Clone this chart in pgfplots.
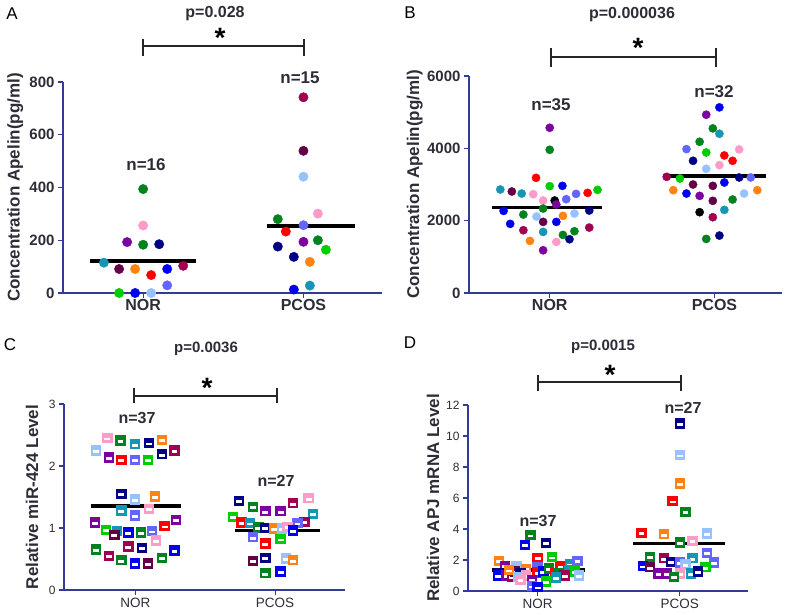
\documentclass[border=0pt]{standalone}
\usepackage{fontspec}
\setmainfont{Liberation Sans}
\usepackage{pgfplots}
\usepackage{pgfplotstable}
\pgfplotsset{compat=1.18}

\definecolor{cgreen}{RGB}{0,130,30}
\definecolor{cbgreen}{RGB}{0,205,0}
\definecolor{cblue}{RGB}{0,0,240}
\definecolor{cnavy}{RGB}{0,0,135}
\definecolor{clblue}{RGB}{150,195,255}
\definecolor{cslate}{RGB}{100,100,255}
\definecolor{cred}{RGB}{255,0,0}
\definecolor{corange}{RGB}{255,130,20}
\definecolor{cpink}{RGB}{255,155,200}
\definecolor{cpurple}{RGB}{125,0,160}
\definecolor{cplum}{RGB}{100,0,70}
\definecolor{cmaroon}{RGB}{160,0,80}
\definecolor{cteal}{RGB}{20,150,180}
\definecolor{caxis}{RGB}{50,60,150}
\definecolor{ctext}{RGB}{45,45,55}

\newcommand\fs[1]{\fontsize{#1}{#1}\selectfont}

% coloured square with a white bar, as in panels C and D
\pgfdeclareplotmark{sqbar}{%
  \pgfpathrectangle{\pgfpoint{-\pgfplotmarksize}{-\pgfplotmarksize}}{\pgfpoint{2\pgfplotmarksize}{2\pgfplotmarksize}}%
  \pgfusepathqfill
  \pgfscope
  \pgfsetfillcolor{white}%
  \pgfpathrectangle{\pgfpoint{-0.55\pgfplotmarksize}{-0.45\pgfplotmarksize}}{\pgfpoint{1.1\pgfplotmarksize}{0.55\pgfplotmarksize}}%
  \pgfusepathqfill
  \endpgfscope
}

\pgfplotsset{
  palette/.style={scatter/classes={g={cgreen},bg={cbgreen},b={cblue},n={cnavy},
    lb={clblue},s={cslate},r={cred},o={corange},pk={cpink},pu={cpurple},
    pl={cplum},m={cmaroon},t={cteal},k={black}}},
  panel/.style={scale only axis, anchor=south west, clip=false,
    axis x line*=bottom, axis y line*=left,
    axis line style={caxis,line width=1.4pt},
    tick style={caxis,line width=1.2pt}, tick align=outside,
    major tick length=5pt,
    xtick={0,1}, xticklabels={NOR,PCOS}, ymin=0,
    scaled y ticks=false,
    /pgf/number format/assume math mode=true,
    /pgf/number format/1000 sep={},
    ylabel style={font=\bfseries\fs{17}, text=ctext, anchor=center}},
  big/.style={yticklabel style={font=\bfseries\fs{15}, text=ctext},
    xticklabel style={font=\bfseries\fs{16}, text=ctext, yshift=2pt}},
  small/.style={yticklabel style={font=\fs{12}, text=ctext},
    xticklabel style={font=\fs{13.5}, text=ctext}},
  dots/.style={scatter, only marks, scatter src=explicit symbolic, palette,
    mark=*, mark size=#1, mark options={line width=0.4pt}},
  boxes/.style={scatter, only marks, scatter src=explicit symbolic, palette,
    mark=sqbar, mark size=#1},
  mean/.style={black, line width=3.6pt}
}

% panel A: apelin (pg/ml)
\pgfplotstableread{
x y c
0.00 394 g
0.00 256 pk
-0.10 193 pu
0.00 183 g
0.10 185 n
-0.245 115 t
-0.15 91 pl
-0.05 91 o
0.05 68 r
0.15 91 b
0.25 103 m
0.15 29 s
-0.15 0 bg
-0.05 0 b
0.05 0 lb
}\tAnor
\pgfplotstableread{
x y c
1.00 742 m
1.00 539 pl
1.00 441 lb
1.09 301 pk
0.84 280 g
1.00 257 s
0.89 233 r
1.00 194 pu
1.09 200 g
0.84 176 n
1.14 164 bg
0.94 137 n
1.04 118 o
0.94 13 b
1.04 28 t
}\tApcos

% panel B: apelin (pg/ml)
\pgfplotstableread{
x y c
0.00 4569 pu
0.00 3960 g
-0.083 3184 r
0.00 2954 bg
0.077 2963 b
-0.30 2861 t
-0.23 2806 pl
-0.17 2750 t
-0.10 2732 pk
-0.04 2557 pk
0.03 2557 k
0.04 2446 pu
0.10 2594 s
0.16 2741 s
0.23 2769 r
0.29 2852 bg
-0.28 2270 b
-0.16 2169 g
-0.08 2114 lb
-0.04 2335 g
-0.04 1966 pl
0.04 1966 b
0.08 2132 o
0.15 2197 lb
0.24 2280 n
-0.24 1911 b
-0.16 1735 m
-0.04 1689 t
0.08 1606 g
0.15 1708 g
0.24 1809 m
-0.12 1440 o
0.12 1486 n
0.04 1412 pk
-0.04 1181 pu
}\tBnor
\pgfplotstableread{
x y c
1.03 5132 b
0.95 4929 pu
0.99 4551 g
1.03 4403 t
0.91 4181 g
0.83 3978 s
0.95 3886 bg
1.15 3969 pk
0.87 3655 n
1.06 3803 r
1.11 3655 r
1.03 3535 pk
0.95 3434 lb
0.71 3212 m
0.79 3166 bg
1.15 3194 n
1.22 3194 s
0.87 3000 pl
0.99 2963 pl
1.06 3055 b
0.75 2843 o
1.26 2843 o
0.83 2750 b
0.91 2686 pu
1.18 2750 lb
0.99 2548 pl
1.11 2584 g
1.06 2298 t
0.91 2234 k
0.99 2095 m
1.03 1588 n
0.95 1495 g
}\tBpcos

% panel C: miR-424
\pgfplotstableread{
x y c
-0.20 2.45 pk
-0.106 2.41 g
0.00 2.35 t
0.10 2.37 n
0.19 2.42 o
-0.28 2.25 lb
-0.19 2.14 pu
-0.10 2.10 r
0.00 2.10 s
0.09 2.10 bg
0.19 2.19 n
0.28 2.25 m
-0.10 1.55 n
0.00 1.46 lb
0.14 1.51 o
-0.10 1.28 t
0.10 1.31 pk
0.00 1.20 s
-0.29 1.09 pu
-0.21 0.97 bg
-0.13 0.95 t
-0.15 0.89 pl
-0.05 0.93 b
0.04 0.93 g
0.12 0.95 s
0.21 1.03 r
0.29 1.13 pu
-0.05 0.70 m
0.05 0.68 n
0.15 0.80 pk
-0.28 0.65 g
-0.19 0.55 m
-0.10 0.48 g
0.00 0.43 b
0.09 0.43 pl
0.19 0.52 g
0.28 0.64 b
}\tCnor
\pgfplotstableread{
x y c
1.24 1.48 pk
0.74 1.44 n
1.13 1.40 m
0.84 1.34 g
0.93 1.27 pu
1.04 1.27 pu
1.27 1.23 t
0.70 1.18 bg
0.76 1.09 r
0.82 1.08 t
1.21 1.10 m
1.16 1.08 s
0.88 1.01 g
0.93 1.00 n
0.99 0.99 o
1.05 0.99 lb
1.09 1.02 pk
1.13 0.96 b
0.84 0.85 s
1.04 0.82 bg
0.93 0.75 r
0.84 0.47 pl
0.93 0.52 n
1.08 0.51 lb
1.13 0.48 o
0.93 0.27 g
1.04 0.30 b
}\tCpcos

% panel D: APJ mRNA
\pgfplotstableread{
x y c
-0.27 1.94 o
-0.23 1.63 pu
-0.15 1.57 lb
-0.08 1.42 o
0.16 1.61 r
0.23 1.74 t
0.28 1.94 s
-0.27 1.14 n
-0.28 0.99 b
-0.22 0.99 pu
-0.18 0.92 m
-0.16 1.25 pl
-0.20 1.35 o
-0.12 1.14 n
-0.14 0.92 lb
-0.08 0.99 pk
-0.12 0.71 pk
0.00 2.13 r
0.10 2.19 bg
-0.09 2.97 b
0.06 3.10 n
-0.05 3.61 g
0.00 1.53 s
0.00 1.20 r
0.04 1.25 b
0.08 1.46 g
0.12 1.14 r
0.15 1.14 g
0.22 1.35 t
0.26 1.25 bg
0.19 0.99 m
0.29 0.99 lb
0.13 0.86 t
0.06 0.60 bg
-0.04 0.71 pu
-0.04 0.32 s
0.00 0.25 b
}\tDnor
\pgfplotstableread{
x y c
1.00 10.81 n
1.00 8.77 lb
1.00 6.94 o
0.95 5.80 r
1.04 5.10 g
0.73 3.76 r
0.89 3.66 o
1.19 3.72 lb
1.09 3.23 pk
1.00 3.12 g
0.79 2.21 g
0.89 2.11 m
1.19 2.47 s
1.09 2.11 t
0.74 1.61 b
0.79 1.53 pl
0.94 1.89 n
1.00 1.83 s
1.04 1.72 lb
1.24 1.83 s
1.18 1.53 bg
0.85 1.14 pu
0.91 1.14 pu
1.00 1.14 pk
1.08 1.14 t
1.13 1.25 n
0.96 0.92 g
}\tDpcos

\begin{document}
\begin{tikzpicture}[x=1pt,y=1pt]
\path[use as bounding box] (0,0) rectangle (800,615);

% ---- A ----
\begin{axis}[panel, big, at={(63pt,322pt)}, width=319pt, height=211pt,
  xmin=-0.5, xmax=1.49, ymax=800, ytick={0,200,...,800},
  ylabel={Concentration Apelin(pg/ml)},
  ylabel style={at={(axis description cs:-0.15,0.5)}}]
\addplot[dots=4.7pt] table[x=x,y=y,meta=c]{\tAnor};
\addplot[dots=4.7pt] table[x=x,y=y,meta=c]{\tApcos};
\addplot[mean] coordinates {(-0.33,121) (0.33,121)};
\addplot[mean] coordinates {(0.77,255) (1.32,255)};
\end{axis}

% ---- B ----
\begin{axis}[panel, big, at={(469pt,322pt)}, width=313pt, height=217pt,
  xmin=-0.49, xmax=1.41, ymax=6000, ytick={0,2000,4000,6000},
  ylabel={Concentration Apelin(pg/ml)},
  ylabel style={at={(axis description cs:-0.173,0.5)}}]
\addplot[dots=4.1pt] table[x=x,y=y,meta=c]{\tBnor};
\addplot[dots=4.1pt] table[x=x,y=y,meta=c]{\tBpcos};
\addplot[mean] coordinates {(-0.35,2363) (0.32,2363)};
\addplot[mean] coordinates {(0.69,3240) (1.31,3240)};
\end{axis}

% ---- C ----
\begin{axis}[panel, small, at={(64pt,25pt)}, width=281pt, height=186pt,
  xmin=-0.51, xmax=1.5, ymax=3, ytick={0,1,2,3},
  ylabel={Relative miR-424 Level},
  ylabel style={at={(axis description cs:-0.114,0.5)}}]
\addplot[boxes=5.2pt] table[x=x,y=y,meta=c]{\tCnor};
\addplot[boxes=5.2pt] table[x=x,y=y,meta=c]{\tCpcos};
\addplot[mean] coordinates {(-0.32,1.357) (0.33,1.357)};
\addplot[mean] coordinates {(0.71,0.96) (1.32,0.96)};
\end{axis}

% ---- D ----
\begin{axis}[panel, small, at={(468pt,24pt)}, width=280pt, height=186pt,
  xmin=-0.49, xmax=1.48, ymax=12, ytick={0,2,...,12},
  ylabel={Relative APJ mRNA Level},
  ylabel style={at={(axis description cs:-0.125,0.5)}}]
\addplot[boxes=5.2pt] table[x=x,y=y,meta=c]{\tDnor};
\addplot[boxes=5.2pt] table[x=x,y=y,meta=c]{\tDpcos};
\addplot[mean] coordinates {(-0.32,1.35) (0.33,1.35)};
\addplot[mean] coordinates {(0.67,3.07) (1.32,3.07)};
\end{axis}

% panel letters
\node[font=\fs{17}] at (12,601) {A};
\node[font=\fs{17}] at (410,602) {B};
\node[font=\fs{17}] at (10,270) {C};
\node[font=\fs{17}] at (410,272) {D};

% p values, stars, brackets, group sizes
\begin{scope}[text=ctext, font=\bfseries\fs{16}]
\node at (215,601) {p=0.028};
\node at (632,600) {p=0.000036};
\node[font=\bfseries\fs{15}] at (206,266) {p=0.0036};
\node[font=\bfseries\fs{15}] at (603,268) {p=0.0015};
\node[font=\bfseries\fs{17}] at (146,450) {n=16};
\node[font=\bfseries\fs{17}] at (300,537) {n=15};
\node[font=\bfseries\fs{17}] at (551,510) {n=35};
\node[font=\bfseries\fs{17}] at (714,523) {n=32};
\node[font=\bfseries\fs{16}] at (137,197) {n=37};
\node[font=\bfseries\fs{16}] at (276,134) {n=27};
\node[font=\bfseries\fs{16}] at (538,94) {n=37};
\node[font=\bfseries\fs{16}] at (683,207) {n=27};
\end{scope}
\begin{scope}[font=\bfseries\fs{28}, inner sep=0pt]
\node[anchor=base] at (220,583-16) {*};
\node[anchor=base] at (638,573-16) {*};
\node[anchor=base] at (207,233-16) {*};
\node[anchor=base] at (610,246-16) {*};
\end{scope}
\begin{scope}[draw=black!85, line width=1.8pt]
\draw (143,576) -- (143,559) (143,569) -- (304,569) (304,576) -- (304,559);
\draw (551,567) -- (551,548) (551,558) -- (716,558) (716,567) -- (716,548);
\draw (134,227) -- (134,212) (134,219) -- (277,219) (277,227) -- (277,212);
\draw (538,240) -- (538,224) (538,233) -- (681,233) (681,240) -- (681,224);
\end{scope}
\end{tikzpicture}
\end{document}
